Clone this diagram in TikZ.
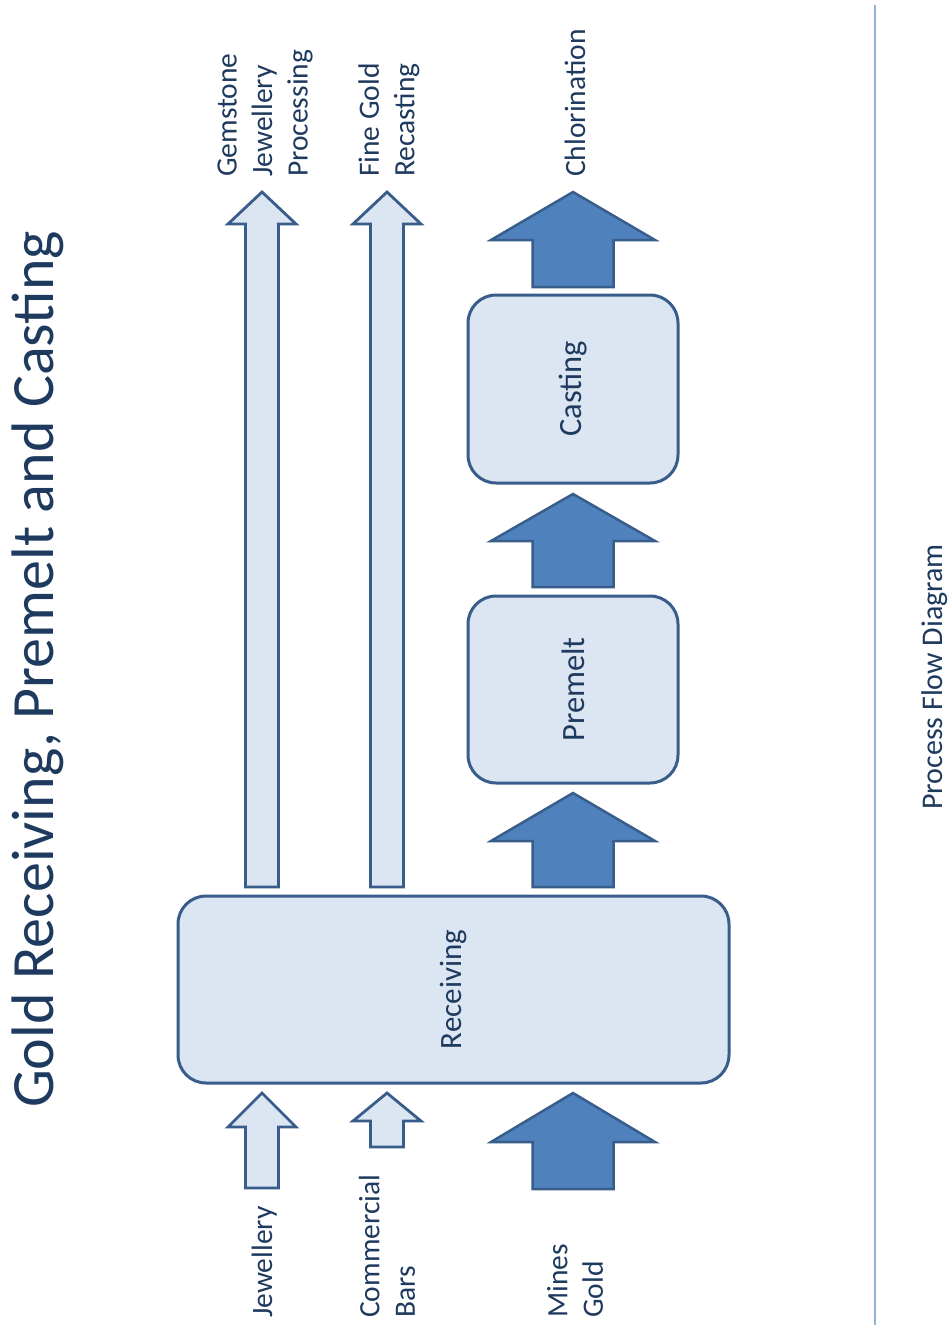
\documentclass[tikz,border=0pt]{standalone}
\usepackage{fontspec}
\setmainfont{Carlito}
\definecolor{txt}{HTML}{1F3A5F}
\definecolor{edge}{HTML}{385D8A}
\definecolor{lightfill}{HTML}{DCE6F2}
\definecolor{darkfill}{HTML}{4F81BD}
\definecolor{rule}{HTML}{95B3D7}
\newcommand{\blockarrowshape}[7]{%
  \filldraw[#1] (#2-#7,#5) -- (#2-#7,#4) -- (#2-#6,#4) -- (#2,#3) -- (#2+#6,#4) -- (#2+#7,#4) -- (#2+#7,#5) -- cycle;}
\begin{document}
\begin{tikzpicture}[x=1pt,y=-1pt,
  procbox/.style={draw=edge, line width=3pt, fill=lightfill, rounded corners=28pt,
    rotate=90, inner sep=0pt, text=txt, font=\fontsize{31}{37}\selectfont},
  bigbox/.style={procbox, font=\fontsize{32.5}{39}\selectfont},
  lightarrow/.style={draw=edge, line width=2.8pt, fill=lightfill, line join=miter},
  darkarrow/.style={draw=edge, line width=2.5pt, fill=darkfill, line join=miter},
  lbl/.style={rotate=90, inner sep=0pt, text=txt, align=left, font=\fontsize{29.5}{35.5}\selectfont},
  titletext/.style={rotate=90, inner sep=0pt, text=txt, font=\fontsize{60}{72}\selectfont},
  foot/.style={rotate=90, inner sep=0pt, text=txt, font=\fontsize{30}{36}\selectfont}]
\useasboundingbox (0,0) rectangle (952,1325);
\fill[white] (0,0) rectangle (952,1325);

% title
\node[titletext, anchor=base] (title) at (53,669.5) {Gold Receiving, Premelt and Casting};

% process boxes
\node[procbox, minimum width=187pt, minimum height=551pt] (recv) at (453.5,989.5) {Receiving};
\node[bigbox, minimum width=187pt, minimum height=210pt] (premelt) at (573,689.5) {Premelt};
\node[bigbox, minimum width=188pt, minimum height=210pt] (casting) at (573,389) {Casting};

% light block arrows
\blockarrowshape{lightarrow}{262}{192}{224}{887}{34}{16.5}
\blockarrowshape{lightarrow}{387}{192}{224}{887}{34}{16.5}
\blockarrowshape{lightarrow}{262}{1093}{1127}{1188}{34}{16.5}
\blockarrowshape{lightarrow}{387}{1093}{1121}{1147}{34}{16.5}

% dark block arrows
\blockarrowshape{darkarrow}{573}{192}{240}{287}{82}{40.5}
\blockarrowshape{darkarrow}{573}{494}{541}{587}{82}{40.5}
\blockarrowshape{darkarrow}{573}{793}{841}{887}{82}{40.5}
\blockarrowshape{darkarrow}{573}{1093}{1142}{1189}{82}{40.5}

% output labels
\node[lbl, anchor=west] (gem) at (265,177) {Gemstone\\Jewellery\\Processing};
\node[lbl, anchor=west] (fine) at (389,177) {Fine Gold\\Recasting};
\node[lbl, anchor=base west] (chlor) at (585,177) {Chlorination};

% input labels
\node[lbl, anchor=base west] (jew) at (272,1318) {Jewellery};
\node[lbl, anchor=west] (comm) at (387,1318) {Commercial\\Bars};
\node[lbl, anchor=west] (mines) at (575,1318) {Mines\\Gold};

% side rule and footer
\coordinate (ruletop) at (875,5);
\coordinate (rulebot) at (875,1325);
\draw[rule, line width=2pt] (ruletop) -- (rulebot);
\node[foot, anchor=base] (pfd) at (942,677) {Process Flow Diagram};
\end{tikzpicture}
\end{document}
